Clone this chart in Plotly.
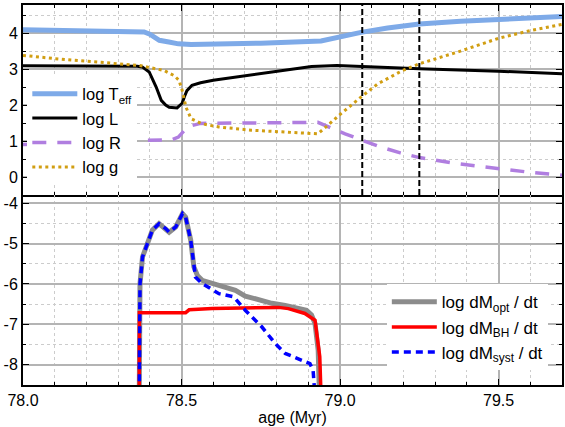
import plotly.graph_objects as go
from plotly.subplots import make_subplots

# ---- stellar parameters (upper panel) ----
age_teff = [78.0, 78.2, 78.35, 78.382, 78.40, 78.43, 78.46, 78.49, 78.53, 78.6, 78.75,
            78.94, 79.066, 79.15, 79.25, 79.38, 79.5, 79.6, 79.7]
log_teff = [4.09, 4.07, 4.05, 4.03, 3.97, 3.80, 3.75, 3.70, 3.68, 3.69, 3.72,
            3.78, 4.02, 4.14, 4.25, 4.33, 4.39, 4.43, 4.46]

age_l = [78.0, 78.2, 78.36, 78.376, 78.398, 78.42, 78.436, 78.45, 78.461, 78.486, 78.502,
         78.51, 78.517, 78.533, 78.56, 78.6, 78.75, 78.91, 78.99, 79.12, 79.25, 79.5, 79.7]
log_l = [3.09, 3.09, 3.08, 3.06, 2.92, 2.50, 2.13, 2.00, 1.94, 1.92, 2.05,
         2.25, 2.40, 2.55, 2.62, 2.69, 2.88, 3.07, 3.10, 3.05, 3.01, 2.94, 2.87]

age_r = [78.0, 78.2, 78.37, 78.467, 78.49, 78.52, 78.56, 78.7, 78.85, 78.93, 79.016,
         79.06, 79.119, 79.19, 79.25, 79.37, 79.5, 79.6, 79.7]
log_r = [0.90, 0.95, 1.02, 1.03, 1.11, 1.40, 1.49, 1.51, 1.53, 1.52, 1.20,
         1.05, 0.86, 0.67, 0.54, 0.37, 0.23, 0.13, 0.05]

age_g = [78.0, 78.1, 78.24, 78.367, 78.445, 78.476, 78.492, 78.502, 78.514, 78.53, 78.564,
         78.618, 78.72, 78.87, 78.93, 78.962, 79.003, 79.066, 79.119, 79.197, 79.251,
         79.37, 79.502, 79.6, 79.699]
log_g = [3.38, 3.29, 3.19, 3.10, 2.96, 2.82, 2.69, 2.41, 1.94, 1.62, 1.48,
         1.39, 1.30, 1.22, 1.20, 1.44, 1.76, 2.22, 2.59, 2.96, 3.15,
         3.47, 3.86, 4.07, 4.24]

# epochs marked with vertical dashed lines
marker_ages = [79.07, 79.25]

# ---- mass-loss rates (lower panel) ----
age_opt = [78.3665, 78.369, 78.377, 78.388, 78.408, 78.429, 78.45, 78.461, 78.482, 78.503,
           78.513, 78.529, 78.539, 78.55, 78.565, 78.597, 78.67, 78.701, 78.785, 78.827,
           78.894, 78.91, 78.921, 78.931, 78.936]
dm_opt = [-9.0, -6.0, -5.33, -5.09, -4.67, -4.51, -4.63, -4.72, -4.59, -4.26,
          -4.35, -4.92, -5.58, -5.79, -5.91, -5.99, -6.16, -6.30, -6.48, -6.53,
          -6.65, -6.77, -6.98, -7.64, -9.0]

age_bh = [78.3665, 78.367, 78.513, 78.524, 78.597, 78.806, 78.837, 78.889, 78.921, 78.936, 78.941]
dm_bh = [-9.0, -6.71, -6.71, -6.64, -6.61, -6.58, -6.61, -6.73, -6.90, -7.80, -9.0]

age_syst = [78.3665, 78.369, 78.377, 78.388, 78.408, 78.429, 78.45, 78.461, 78.482, 78.503,
            78.513, 78.529, 78.539, 78.544, 78.565, 78.618, 78.665, 78.701, 78.753, 78.795,
            78.827, 78.868, 78.905, 78.915, 78.923]
dm_syst = [-9.0, -6.0, -5.33, -5.09, -4.67, -4.51, -4.63, -4.72, -4.59, -4.26,
           -4.35, -4.92, -5.58, -5.83, -5.99, -6.24, -6.32, -6.65, -7.06, -7.47,
           -7.72, -7.84, -7.97, -8.14, -9.0]

x_range = [78.0, 79.7]
x_ticks = [78.0, 78.5, 79.0, 79.5]
x_ticktext = ["78.0", "78.5", "79.0", "79.5"]
top_ticks = [0, 1, 2, 3, 4]
top_ticktext = ["0", "1", "2", "3", "4"]
bot_ticks = [-8, -7, -6, -5, -4]
bot_ticktext = ["-8", "-7", "-6", "-5", "-4"]

FONT = "Liberation Sans, Arial, sans-serif"

fig = make_subplots(rows=2, cols=1, shared_xaxes=True, vertical_spacing=0)

fig.add_trace(go.Scatter(x=age_teff, y=log_teff, mode="lines", name="log T<sub>eff</sub>",
                         line=dict(color="#7eaae8", width=5), legend="legend"), row=1, col=1)
fig.add_trace(go.Scatter(x=age_l, y=log_l, mode="lines", name="log L",
                         line=dict(color="black", width=3), legend="legend"), row=1, col=1)
fig.add_trace(go.Scatter(x=age_r, y=log_r, mode="lines", name="log R",
                         line=dict(color="#b07ee0", width=3.5, dash="14px,11px"),
                         legend="legend"), row=1, col=1)
fig.add_trace(go.Scatter(x=age_g, y=log_g, mode="lines", name="log g",
                         line=dict(color="#d19e12", width=3, dash="3px,3.5px"),
                         legend="legend"), row=1, col=1)

fig.add_trace(go.Scatter(x=age_opt, y=dm_opt, mode="lines", name="log dM<sub>opt</sub> / dt",
                         line=dict(color="#8c8c8c", width=5), legend="legend2"), row=2, col=1)
fig.add_trace(go.Scatter(x=age_bh, y=dm_bh, mode="lines", name="log dM<sub>BH</sub> / dt",
                         line=dict(color="#ff0000", width=3.5), legend="legend2"), row=2, col=1)
fig.add_trace(go.Scatter(x=age_syst, y=dm_syst, mode="lines", name="log dM<sub>syst</sub> / dt",
                         line=dict(color="#0000ff", width=3.5, dash="7px,5px"),
                         legend="legend2"), row=2, col=1)

for a in marker_ages:
    fig.add_shape(type="line", x0=a, x1=a, y0=0, y1=1, xref="x", yref="y domain",
                  line=dict(color="black", width=2, dash="6px,3px"))

tick_font = dict(family=FONT, size=16, color="black")
axis_common = dict(
    showline=True, linecolor="black", linewidth=2,
    ticks="inside", ticklen=6, tickwidth=1, tickcolor="black",
    showgrid=True, gridcolor="#b4b4b4", gridwidth=1.5, zeroline=False,
    tickfont=tick_font,
)
x_minor = dict(dtick=0.1, tick0=78.0, ticks="inside", ticklen=3, tickcolor="black",
               showgrid=True, griddash="dot", gridcolor="#cccccc", gridwidth=1)
y_minor = dict(dtick=0.5, tick0=0, ticks="inside", ticklen=3, tickcolor="black",
               showgrid=True, griddash="dot", gridcolor="#cccccc", gridwidth=1)

# upper panel x axis: its line and mirror form the top border and the panel divider
fig.update_xaxes(range=x_range, tickmode="array", tickvals=x_ticks, ticktext=x_ticktext,
                 minor=x_minor, showticklabels=False, mirror="allticks",
                 row=1, col=1, **axis_common)
# lower panel x axis: bottom border only (divider already drawn above)
fig.update_xaxes(range=x_range, tickmode="array", tickvals=x_ticks, ticktext=x_ticktext,
                 minor=x_minor, showticklabels=True, mirror=False,
                 title=dict(text="age (Myr)", font=dict(family=FONT, size=16, color="black"),
                            standoff=0),
                 row=2, col=1, **axis_common)

fig.update_yaxes(range=[-0.5, 4.78], tickmode="array", tickvals=top_ticks, ticktext=top_ticktext,
                 minor=y_minor, mirror="allticks", row=1, col=1, **axis_common)
fig.update_yaxes(range=[-8.5, -3.8], tickmode="array", tickvals=bot_ticks, ticktext=bot_ticktext,
                 minor=y_minor, mirror="allticks", row=2, col=1, **axis_common)

fig.update_layout(
    # tick marks along the top edge of the lower panel, without a second border line
    xaxis3=dict(overlaying="x2", anchor="y2", side="top", matches="x2", range=x_range,
                tickmode="array", tickvals=x_ticks, showticklabels=False,
                ticks="inside", ticklen=6, tickwidth=1, tickcolor="black",
                minor=dict(dtick=0.1, tick0=78.0, ticks="inside", ticklen=3, tickcolor="black",
                           showgrid=False),
                showline=False, showgrid=False, zeroline=False),
    width=565, height=427,
    margin=dict(l=23, r=1, t=5, b=42),
    plot_bgcolor="white", paper_bgcolor="white",
    font=dict(family=FONT, size=16, color="black"),
    legend=dict(x=0.008, y=0.812, xanchor="left", yanchor="top", bgcolor="white",
                font=dict(family=FONT, size=16.5, color="black"), itemwidth=45,
                tracegroupgap=0),
    legend2=dict(x=0.675, y=0.265, xanchor="left", yanchor="top", bgcolor="white",
                 font=dict(family=FONT, size=17, color="black"), itemwidth=45,
                 tracegroupgap=0),
)

fig.write_html("out.html")
